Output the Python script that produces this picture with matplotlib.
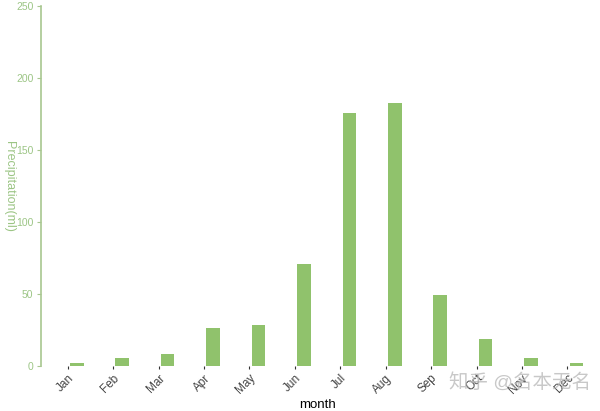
import numpy as np
import matplotlib.pyplot as plt

months = ["Jan", "Feb", "Mar", "Apr", "May", "Jun",
          "Jul", "Aug", "Sep", "Oct", "Nov", "Dec"]
precip = [2.3, 5.3, 8.5, 26.3, 28.3, 70.7, 175.8, 182.3, 49.0, 18.9, 5.3, 2.3]
y_ticks = [0, 50, 100, 150, 200, 250]

BAR = "#90c26c"
AXIS = "#a8c790"
LABEL = "#9cc585"

plt.rcParams["font.family"] = ["Liberation Sans", "Noto Sans CJK SC", "DejaVu Sans"]

fig = plt.figure(figsize=(6.0, 4.11), dpi=100)
ax = fig.add_axes([0.0675, 0.1095, 0.9235, 0.876])

x = np.arange(1, len(months) + 1)
ax.bar(x + 0.05, precip, width=0.3, align="edge", color=BAR, edgecolor="none")

ax.set_xlim(0.4, 12.6)
ax.set_ylim(0, 250)
ax.set_xticks(x)
ax.set_xticklabels(months, rotation=45, ha="right", rotation_mode="anchor",
                   fontsize=8.5)
ax.set_yticks(y_ticks)
ax.set_yticklabels([str(v) for v in y_ticks], fontsize=7.5)

for side in ("top", "right", "bottom"):
    ax.spines[side].set_visible(False)
ax.spines["left"].set_color(AXIS)
ax.spines["left"].set_linewidth(1.2)
ax.spines["left"].set_bounds(0, 250)

ax.tick_params(axis="y", direction="out", length=3, color=AXIS,
               labelcolor=LABEL, pad=2)
ax.tick_params(axis="x", direction="out", length=2.5, color="#333333",
               labelcolor="#444444", pad=2)

ax.set_xlabel("month", fontsize=9.5, color="black", labelpad=2)
ax.set_ylabel("Precipitation(ml)", fontsize=9, color=LABEL, rotation=270,
              va="center", ha="center")
ax.yaxis.set_label_coords(-0.056, 0.5)

# watermark
fig.text(0.985, 0.07, "知乎 @名本无名", ha="right", va="center", fontsize=14,
         color="#bbbbbb", alpha=0.8)

fig.savefig("out.png", dpi=100)
